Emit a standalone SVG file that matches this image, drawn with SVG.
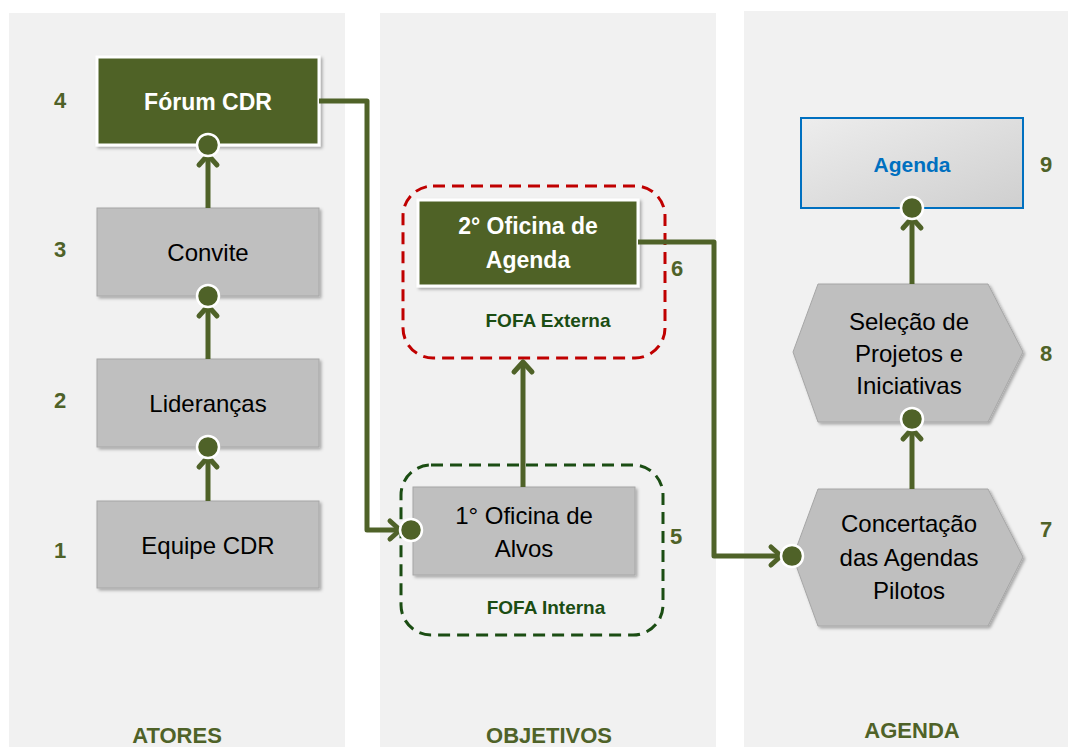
<svg xmlns="http://www.w3.org/2000/svg" width="1068" height="747" viewBox="0 0 1068 747">
<defs>
<style>
text{font-family:"Liberation Sans",Arial,sans-serif;text-anchor:middle}
.panel{fill:#F1F1F1}
.gbox{fill:#BFBFBF;stroke:#A6A6A6;stroke-width:1;filter:url(#sh)}
.dbox{fill:#4F6228;stroke:#FFFFFF;stroke-width:3;filter:url(#sh)}
.t{font-size:24px;fill:#000}
.tw{font-size:23px;fill:#fff;font-weight:bold}
.num{font-size:22px;fill:#4F6228;font-weight:bold}
.fofa{font-size:19px;fill:#1B4D13;font-weight:bold}
.col{font-size:22px;fill:#4F6228;font-weight:bold}
.conn{fill:none;stroke:#4F6228;stroke-width:5;stroke-linejoin:round;marker-end:url(#chev)}
.dot{fill:#4F6228;stroke:#fff;stroke-width:2.5}
</style>
<filter id="sh" x="-10%" y="-10%" width="125%" height="130%">
<feDropShadow dx="2" dy="2" stdDeviation="1.5" flood-color="#000" flood-opacity="0.3"/>
</filter>
<linearGradient id="ag" x1="0" y1="0" x2="1" y2="1">
<stop offset="0" stop-color="#EDEDED"/>
<stop offset="1" stop-color="#CFCFCF"/>
</linearGradient>
<marker id="chev" viewBox="-15 -15 30 30" markerWidth="30" markerHeight="30" refX="0" refY="0" orient="auto" markerUnits="userSpaceOnUse">
<path d="M -10,-9 L 0,0 L -10,9" fill="none" stroke="#4F6228" stroke-width="5" stroke-linecap="round" stroke-linejoin="round"/>
</marker>
</defs>
<rect width="1068" height="747" fill="#fff"/>
<g id="panels">
<rect class="panel" x="9" y="13" width="336" height="734"/>
<rect class="panel" x="380" y="13" width="336" height="734"/>
<rect class="panel" x="744" y="11" width="324" height="736"/>
</g>
<g id="groups">
<rect x="403" y="186" width="262" height="172" rx="30" fill="none" stroke="#C00000" stroke-width="3" stroke-dasharray="12 7"/>
<rect x="401" y="465" width="262" height="170" rx="30" fill="none" stroke="#1B4D13" stroke-width="3" stroke-dasharray="12 7"/>
<text class="fofa" x="548" y="327">FOFA Externa</text>
<text class="fofa" x="546" y="614">FOFA Interna</text>
</g>
<g id="n-forum"><rect class="dbox" x="97" y="57" width="222" height="88"/><text class="tw" x="208" y="110">Fórum CDR</text></g>
<g id="n-convite"><rect class="gbox" x="97" y="208" width="222" height="88"/><text class="t" x="208" y="261">Convite</text></g>
<g id="n-liderancas"><rect class="gbox" x="97" y="359" width="222" height="88"/><text class="t" x="208" y="412">Lideranças</text></g>
<g id="n-equipe"><rect class="gbox" x="97" y="501" width="222" height="87"/><text class="t" x="208" y="554">Equipe CDR</text></g>
<g id="n-of2"><rect class="dbox" x="418" y="200" width="220" height="86"/><text class="tw" x="528" y="234">2° Oficina de</text><text class="tw" x="528" y="268">Agenda</text></g>
<g id="n-of1"><rect class="gbox" x="413" y="487" width="222" height="88"/><text class="t" x="524" y="524">1° Oficina de</text><text class="t" x="524" y="557">Alvos</text></g>
<g id="n-agenda"><rect x="801" y="118" width="222" height="90" fill="url(#ag)" stroke="#0070C0" stroke-width="2"/><text x="912" y="172" style="font-size:21px;fill:#0070C0;font-weight:bold">Agenda</text></g>
<g id="n-selecao"><polygon class="gbox" points="793,352 818,284 988,284 1023,352 988,422 818,422"/><text class="t" x="909" y="330">Seleção de</text><text class="t" x="909" y="362">Projetos e</text><text class="t" x="909" y="394">Iniciativas</text></g>
<g id="n-concert"><polygon class="gbox" points="793,557 818,489 988,489 1023,557 988,626 818,626"/><text class="t" x="909" y="532">Concertação</text><text class="t" x="909" y="566">das Agendas</text><text class="t" x="909" y="599">Pilotos</text></g>
<g id="numbers">
<text class="num" x="60" y="108">4</text>
<text class="num" x="60" y="257">3</text>
<text class="num" x="60" y="408">2</text>
<text class="num" x="60" y="558">1</text>
<text class="num" x="677" y="276">6</text>
<text class="num" x="676" y="544">5</text>
<text class="num" x="1046" y="172">9</text>
<text class="num" x="1046" y="361">8</text>
<text class="num" x="1046" y="537">7</text>
</g>
<g id="columns">
<text class="col" x="177" y="743">ATORES</text>
<text class="col" x="549" y="743">OBJETIVOS</text>
<text class="col" x="912" y="738">AGENDA</text>
</g>
<g id="connectors">
<path class="conn" d="M208,501 V457"/>
<circle class="dot" cx="208" cy="447" r="11"/>
<path class="conn" d="M208,359 V306"/>
<circle class="dot" cx="208" cy="296" r="11"/>
<path class="conn" d="M208,208 V155"/>
<circle class="dot" cx="208" cy="145" r="11"/>
<path class="conn" d="M319,101 H367 V530 H400"/>
<circle class="dot" cx="411" cy="530" r="11"/>
<path class="conn" d="M523,487 V362"/>
<path class="conn" d="M638,242 H714 V556 H781"/>
<circle class="dot" cx="792" cy="556" r="11"/>
<path class="conn" d="M912,489 V429"/>
<circle class="dot" cx="912" cy="419" r="11"/>
<path class="conn" d="M912,284 V218"/>
<circle class="dot" cx="912" cy="208" r="11"/>
</g>
</svg>
